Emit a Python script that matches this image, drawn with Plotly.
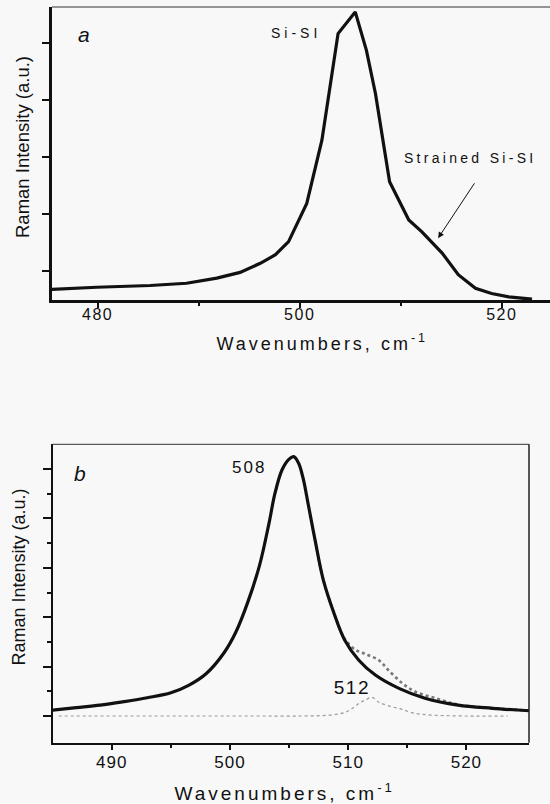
import plotly.graph_objects as go

# ---------------- data: panel a ----------------
a_x = [475.4, 479.9, 485.2, 488.8, 491.8, 494.1, 496.1, 497.6, 498.9, 500.7, 502.2,
       503.8, 505.5, 506.6, 507.5, 508.9, 510.8, 512.1, 514.1, 515.7, 517.4, 519.0,
       520.7, 522.0, 523.0]
a_y = [0.67, 0.71, 0.74, 0.78, 0.87, 0.97, 1.13, 1.28, 1.51, 2.18, 3.29,
       5.16, 5.54, 4.87, 4.11, 2.56, 1.89, 1.68, 1.31, 0.93, 0.69, 0.60,
       0.54, 0.52, 0.50]

# ---------------- data: panel b ----------------
fit_x = [485.0, 487.0, 489.0, 491.0, 493.0, 495.0, 496.5, 498.0, 499.5, 500.5, 501.5,
         502.5, 503.3, 503.8, 504.4, 505.0, 505.4, 505.8, 506.2, 506.6, 507.2, 507.9,
         508.8, 509.7, 510.9, 512.3, 514.3, 516.5, 519.3, 522.2, 525.3]
fit_y = [0.12, 0.17, 0.22, 0.29, 0.37, 0.47, 0.62, 0.86, 1.28, 1.70, 2.30,
         3.05, 3.90, 4.50, 4.98, 5.20, 5.25, 5.12, 4.80, 4.31, 3.56, 2.75,
         2.08, 1.54, 1.13, 0.83, 0.56, 0.36, 0.22, 0.156, 0.107]

exp_x = [507.2, 507.9, 508.8, 509.5, 509.9, 510.6, 511.2, 511.7, 512.6, 513.4, 514.6,
         515.7, 517.4, 519.3, 522.2, 525.3]
exp_y = [3.56, 2.75, 2.08, 1.65, 1.50, 1.34, 1.28, 1.23, 1.13, 0.93, 0.66,
         0.49, 0.36, 0.23, 0.16, 0.11]

diff_x = [485.5, 488.0, 491.0, 494.0, 497.0, 500.0, 503.0, 506.0, 508.5, 509.8, 510.5,
          511.0, 511.5, 512.0, 512.6, 513.5, 514.5, 515.5, 517.0, 520.0, 523.5]
diff_y = [0.0, 0.0, 0.0, 0.0, 0.0, 0.0, 0.0, 0.0, 0.02, 0.08, 0.18,
          0.27, 0.33, 0.38, 0.28, 0.20, 0.14, 0.06, 0.02, 0.0, 0.0]

a_xticks = [480, 500, 520]
a_xminor = [490, 510]
a_yticks = [1, 2, 3, 4, 5]
b_xticks = [490, 500, 510, 520]
b_xminor = [495, 505, 515]
b_yticks = [0, 1, 2, 3, 4, 5]
b_yminor = [0.5, 1.5, 2.5, 3.5, 4.5]

FONT = "Liberation Sans, Arial, Helvetica, sans-serif"
BG = "#f8f8f8"
INK = "#111111"

fig = go.Figure()
fig.add_trace(go.Scatter(x=a_x, y=a_y, mode="lines", line=dict(color=INK, width=3.2),
                         xaxis="x", yaxis="y", hoverinfo="skip"))
fig.add_trace(go.Scatter(x=exp_x, y=exp_y, mode="lines", line=dict(color="#777777", width=2.6, dash="dot", shape="spline"),
                         xaxis="x2", yaxis="y2", hoverinfo="skip"))
fig.add_trace(go.Scatter(x=fit_x, y=fit_y, mode="lines", line=dict(color=INK, width=3.2, shape="spline"),
                         xaxis="x2", yaxis="y2", hoverinfo="skip"))
fig.add_trace(go.Scatter(x=diff_x, y=diff_y, mode="lines", line=dict(color="#9a9a9a", width=1.2, dash="dot", shape="spline"),
                         xaxis="x2", yaxis="y2", hoverinfo="skip"))

W, H = 550, 804
def px(v):
    return v / W
def py(v):
    return 1 - v / H

common = dict(showgrid=False, zeroline=False, showline=True, linecolor=INK,
              ticks="outside", tickcolor=INK)

fig.update_layout(
    width=W, height=H, margin=dict(l=0, r=0, t=0, b=0), autosize=False,
    paper_bgcolor=BG, plot_bgcolor=BG, showlegend=False,
    font=dict(family=FONT, color=INK),
    xaxis=dict(domain=[px(52), 1.0], range=[475.48, 524.78], anchor="y",
               tickvals=a_xticks, ticklen=5, tickwidth=2, linewidth=3,
               ticklabelstandoff=-7,
               tickfont=dict(size=16, family=FONT, color=INK),
               minor=dict(tickvals=a_xminor, ticks="outside", ticklen=3, tickwidth=2, tickcolor=INK),
               **common),
    yaxis=dict(domain=[py(300), py(7)], range=[0.486, 5.626], anchor="x",
               tickvals=a_yticks, ticklen=7, tickwidth=1.5, linewidth=3,
               showticklabels=False, **common),
    xaxis2=dict(domain=[px(52.7), px(529)], range=[485.0, 525.3], anchor="y2",
                tickvals=b_xticks, ticklen=5, tickwidth=1.5, linewidth=2,
                ticklabelstandoff=-2,
                tickfont=dict(size=17, family=FONT, color=INK),
                minor=dict(tickvals=b_xminor, ticks="outside", ticklen=3, tickwidth=1.5, tickcolor=INK),
                **common),
    yaxis2=dict(domain=[py(742.7), py(444.3)], range=[-0.54, 5.5], anchor="x2",
                tickvals=b_yticks, ticklen=8, tickwidth=1.5, linewidth=2,
                showticklabels=False,
                minor=dict(tickvals=b_yminor, ticks="outside", ticklen=4, tickwidth=1.5, tickcolor=INK),
                **common),
)

# thin frame lines (top border of both panels, right border of panel b)
fig.add_shape(type="line", xref="x domain", yref="y domain", x0=0, x1=1, y0=1, y1=1,
              line=dict(color="#333333", width=1))
fig.add_shape(type="line", xref="x2 domain", yref="y2 domain", x0=0, x1=1, y0=1, y1=1,
              line=dict(color="#333333", width=1))
fig.add_shape(type="line", xref="x2 domain", yref="y2 domain", x0=1, x1=1, y0=0, y1=1,
              line=dict(color="#222222", width=1.5))

C = dict(xanchor="center", yanchor="middle", showarrow=False)
ann = []
# panel a
ann.append(dict(text="<i>a</i>", x=478.6, y=5.14, xref="x", yref="y",
                font=dict(size=21, family=FONT, color=INK), **C))
ann.append(dict(text="Si-SI", x=499.6, y=5.17, xref="x", yref="y",
                font=dict(size=14, family=FONT, color=INK), **C))
ann.append(dict(text="Strained Si-SI", x=516.9, y=2.98, xref="x", yref="y",
                font=dict(size=14, family=FONT, color=INK), **C))
ann.append(dict(text="", x=513.7, y=1.57, ax=517.4, ay=2.56, xref="x", yref="y",
                axref="x", ayref="y", showarrow=True, arrowhead=2, arrowsize=1.2,
                arrowwidth=1, arrowcolor=INK))
ann.append(dict(text="Raman Intensity (a.u.)", x=px(22), y=py(147), xref="paper", yref="paper",
                textangle=-90, font=dict(size=18.5, family=FONT, color=INK), **C))
ann.append(dict(text="Wavenumbers, cm<sup>-1</sup>", x=px(322), y=py(342), xref="paper", yref="paper",
                font=dict(size=18, family=FONT, color=INK), **C))
# panel b
ann.append(dict(text="<i>b</i>", x=487.3, y=4.90, xref="x2", yref="y2",
                font=dict(size=21, family=FONT, color=INK), **C))
ann.append(dict(text="508", x=501.6, y=5.03, xref="x2", yref="y2",
                font=dict(size=17, family=FONT, color=INK), **C))
ann.append(dict(text="512", x=510.3, y=0.57, xref="x2", yref="y2",
                font=dict(size=19, family=FONT, color=INK), **C))
ann.append(dict(text="Raman Intensity (a.u.)", x=px(18.5), y=py(577), xref="paper", yref="paper",
                textangle=-90, font=dict(size=18, family=FONT, color=INK), **C))
ann.append(dict(text="Wavenumbers, cm<sup>-1</sup>", x=px(285), y=py(792), xref="paper", yref="paper",
                font=dict(size=19, family=FONT, color=INK), **C))
fig.update_layout(annotations=ann)

post = """
var gd = document.getElementById('{plot_id}');
var sp = {'Si-SI':'4px','Strained Si-SI':'3.3px','508':'2px','512':'1.5px'};
gd.querySelectorAll('.annotation-text').forEach(function(t){
  var c = t.textContent.replace(/\\u200b/g, '');
  var s = sp[c];
  if (c.indexOf('Wavenumbers') === 0) { s = '3px'; }
  if (s) { t.style.letterSpacing = s; }
});
gd.querySelectorAll('.xtick text').forEach(function(t){ t.style.letterSpacing = '1.5px'; });
gd.querySelectorAll('.x2tick text').forEach(function(t){ t.style.letterSpacing = '1px'; });
"""
fig.write_html("out.html", post_script=post)
